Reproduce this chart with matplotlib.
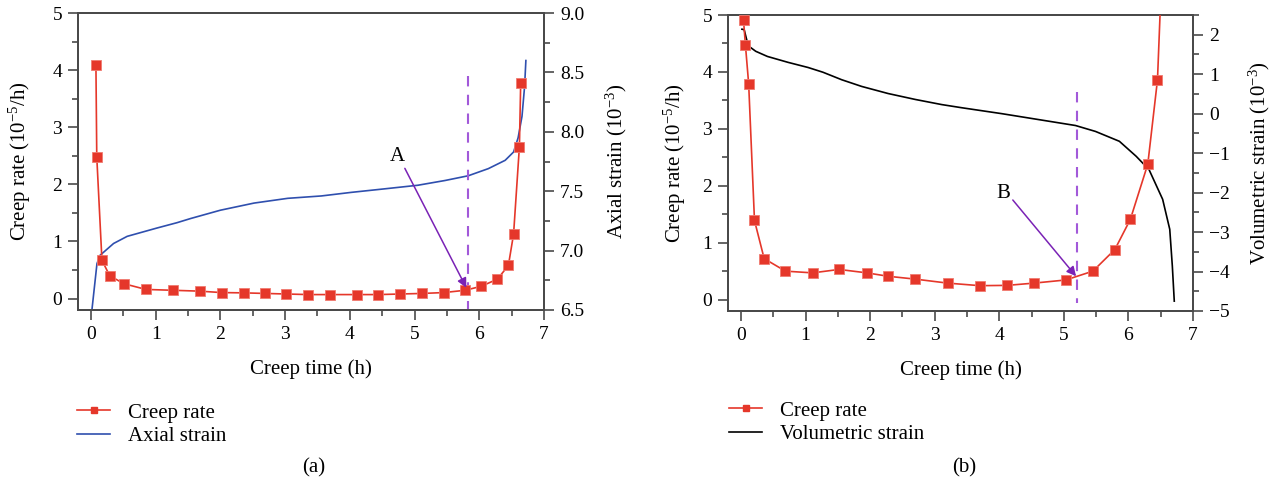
import matplotlib
matplotlib.use("Agg")
import matplotlib.pyplot as plt
from matplotlib.lines import Line2D
from matplotlib.ticker import MultipleLocator, FormatStrFormatter

plt.rcParams['font.family'] = ['Liberation Serif', 'DejaVu Serif']
plt.rcParams['mathtext.fontset'] = 'custom'
plt.rcParams['mathtext.rm'] = 'Liberation Serif'
plt.rcParams['mathtext.default'] = 'regular'

# ---------------- data: panel (a) ----------------
a_rate_t = [0.077, 0.09, 0.17, 0.29, 0.51, 0.85, 1.27, 1.68, 2.02, 2.36, 2.69, 3.02,
            3.36, 3.69, 4.11, 4.44, 4.78, 5.12, 5.45, 5.78, 6.03, 6.28, 6.45, 6.53,
            6.62, 6.64]
a_rate = [4.09, 2.48, 0.67, 0.40, 0.26, 0.16, 0.145, 0.13, 0.105, 0.10, 0.09, 0.08,
          0.07, 0.07, 0.07, 0.07, 0.08, 0.09, 0.105, 0.145, 0.215, 0.34, 0.58, 1.13,
          2.66, 3.78]
a_strain_t = [0.015, 0.093, 0.14, 0.35, 0.56, 1.02, 1.33, 1.54, 2.0, 2.52, 3.04, 3.56,
              4.02, 4.54, 5.05, 5.47, 5.83, 6.14, 6.40, 6.53, 6.60, 6.66, 6.70, 6.72]
a_strain = [6.5, 6.89, 6.96, 7.06, 7.12, 7.19, 7.235, 7.27, 7.34, 7.40, 7.44, 7.46,
            7.49, 7.52, 7.55, 7.59, 7.63, 7.69, 7.76, 7.83, 7.95, 8.13, 8.38, 8.60]
a_point_t = 5.83          # dashed line / point A
a_label = "A"

# ---------------- data: panel (b) ----------------
b_rate_t = [0.04, 0.07, 0.12, 0.21, 0.36, 0.69, 1.11, 1.52, 1.95, 2.28, 2.70, 3.20,
            3.70, 4.12, 4.54, 5.03, 5.45, 5.79, 6.03, 6.30, 6.45]
b_rate = [4.91, 4.47, 3.79, 1.39, 0.72, 0.50, 0.47, 0.53, 0.47, 0.41, 0.36, 0.29,
          0.245, 0.25, 0.29, 0.345, 0.50, 0.88, 1.41, 2.38, 3.86]
b_rate_tail_t = [6.45, 6.50]
b_rate_tail = [3.86, 5.3]
b_vol_t = [0.016, 0.05, 0.09, 0.13, 0.23, 0.41, 0.73, 1.04, 1.27, 1.56, 1.87, 2.28,
           2.70, 3.11, 3.42, 4.04, 4.61, 5.18, 5.49, 5.86, 6.12, 6.32, 6.53, 6.64,
           6.68, 6.71]
b_vol = [2.14, 2.13, 1.87, 1.70, 1.58, 1.45, 1.30, 1.17, 1.05, 0.86, 0.69, 0.51,
         0.36, 0.23, 0.15, 0.0, -0.15, -0.30, -0.45, -0.70, -1.08, -1.42, -2.17,
         -2.93, -3.86, -4.75]
b_point_t = 5.20
b_label = "B"

RED = '#e5372a'
RED_EDGE = '#f07a70'
BLUE = '#2f4fae'
DASH = '#a259d9'
ARROW = '#7a22b5'
SPINE = '#4a4a4a'
FS_T = 14      # tick labels
FS_L = 15      # axis labels / legend / annotations

fig = plt.figure(figsize=(12.76, 4.92), dpi=100)


def style_axes(ax, ax2, ypad):
    for a in (ax, ax2):
        for s in a.spines.values():
            s.set_color(SPINE)
            s.set_linewidth(1.4)
        a.tick_params(which='major', length=7.5, width=1.2, color=SPINE,
                      labelsize=FS_T, pad=4)
        a.tick_params(which='minor', length=4, width=1.2, color=SPINE)
    ax.tick_params(axis='both', which='both', direction='out', top=False, right=False)
    ax2.tick_params(axis='y', which='both', direction='out', right=True, left=False)
    ax.xaxis.set_major_locator(MultipleLocator(1))
    ax.xaxis.set_minor_locator(MultipleLocator(0.5))
    ax.yaxis.set_major_locator(MultipleLocator(1))
    ax.yaxis.set_minor_locator(MultipleLocator(0.5))
    ax.set_xlim(-0.2, 7)
    ax.set_ylim(-0.2, 5)
    ax.set_xlabel('Creep time (h)', fontsize=FS_L, labelpad=12)
    ax.set_ylabel('Creep rate (10$^{-5}$/h)', fontsize=FS_L, labelpad=ypad)


# ---------------- panel (a) ----------------
axa = fig.add_axes([78 / 1276, 1 - 310 / 492, 466 / 1276, 297 / 492])
axa2 = axa.twinx()
axa.set_zorder(axa2.get_zorder() + 1)
axa.patch.set_visible(False)
style_axes(axa, axa2, 13.5)
axa.plot(a_rate_t, a_rate, color=RED, lw=1.2, marker='s', ms=6.8,
         mfc=RED, mec=RED_EDGE, mew=0.6, zorder=3)
axa2.plot(a_strain_t, a_strain, color=BLUE, lw=1.2)
axa2.set_ylim(6.5, 9.0)
axa2.yaxis.set_major_locator(MultipleLocator(0.5))
axa2.yaxis.set_minor_locator(MultipleLocator(0.25))
axa2.yaxis.set_major_formatter(FormatStrFormatter('%.1f'))
axa2.set_ylabel('Axial strain (10$^{-3}$)', fontsize=FS_L, labelpad=14)
axa.plot([a_point_t, a_point_t], [3.89, -0.2], color=DASH, lw=1.5,
         dashes=(5, 4), zorder=2)
axa.text(4.74, 2.49, a_label, fontsize=FS_L, ha='center', va='center')
axa.annotate('', xy=(5.80, 0.19), xytext=(4.85, 2.28),
             arrowprops=dict(arrowstyle='-|>', color=ARROW, lw=1.1,
                             mutation_scale=14, shrinkA=0, shrinkB=0), zorder=4)

# ---------------- panel (b) ----------------
axb = fig.add_axes([728 / 1276, 1 - 311 / 492, 465 / 1276, 296 / 492])
axb2 = axb.twinx()
axb.set_zorder(axb2.get_zorder() + 1)
axb.patch.set_visible(False)
style_axes(axb, axb2, 10)
axb.plot(b_rate_tail_t, b_rate_tail, color=RED, lw=1.2, zorder=3)
axb.plot(b_rate_t, b_rate, color=RED, lw=1.2, marker='s', ms=6.8,
         mfc=RED, mec=RED_EDGE, mew=0.6, zorder=3, clip_on=False)
axb2.plot(b_vol_t, b_vol, color='black', lw=1.2)
axb2.set_ylim(-5, 2.5)
axb2.yaxis.set_major_locator(MultipleLocator(1))
axb2.yaxis.set_minor_locator(MultipleLocator(0.5))
axb2.set_ylabel('Volumetric strain (10$^{-3}$)', fontsize=FS_L, labelpad=12)
axb.plot([b_point_t, b_point_t], [3.65, -0.06], color=DASH, lw=1.5,
         dashes=(5, 4), zorder=2)
axb.text(4.07, 1.87, b_label, fontsize=FS_L, ha='center', va='center')
axb.annotate('', xy=(5.19, 0.41), xytext=(4.21, 1.75),
             arrowprops=dict(arrowstyle='-|>', color=ARROW, lw=1.1,
                             mutation_scale=14, shrinkA=0, shrinkB=0), zorder=4)

# ---------------- legends ----------------
h_rate = Line2D([], [], color=RED, lw=1.2, marker='s', ms=4.5, mfc=RED, mec=RED)
h_ax = Line2D([], [], color=BLUE, lw=1.2)
h_vol = Line2D([], [], color='black', lw=1.2)
leg_kw = dict(loc='upper left', frameon=False, fontsize=FS_L, handlelength=1.6,
              handletextpad=0.85, labelspacing=0.2, borderaxespad=0, borderpad=0)
fig.legend([h_rate, h_ax], ['Creep rate', 'Axial strain'],
           bbox_to_anchor=(77 / 1276, 1 - 403 / 492), **leg_kw)
fig.legend([h_rate, h_vol], ['Creep rate', 'Volumetric strain'],
           bbox_to_anchor=(729 / 1276, 1 - 401 / 492), **leg_kw)

fig.text(314 / 1276, 1 - 468 / 492, '(a)', fontsize=FS_L, ha='center', va='center')
fig.text(964 / 1276, 1 - 468 / 492, '(b)', fontsize=FS_L, ha='center', va='center')

fig.savefig('out.png', dpi=100)
